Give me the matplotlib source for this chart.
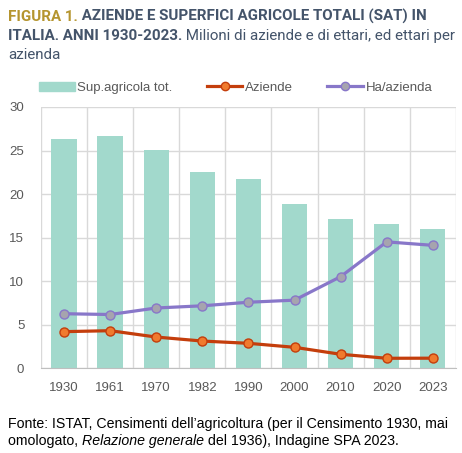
import numpy as np
import matplotlib
matplotlib.use("Agg")
import matplotlib.pyplot as plt
from matplotlib.lines import Line2D
from matplotlib.patches import Patch

years = ["1930", "1961", "1970", "1982", "1990", "2000", "2010", "2020", "2023"]
sup_agricola = [26.3, 26.7, 25.1, 22.5, 21.7, 18.8, 17.1, 16.5, 16.0]
aziende = [4.18, 4.29, 3.56, 3.10, 2.84, 2.38, 1.58, 1.12, 1.13]
ha_azienda = [6.24, 6.15, 6.90, 7.15, 7.56, 7.80, 10.5, 14.5, 14.1]

BAR = "#a2d9cc"
AZ_LINE, AZ_FACE = "#c43e0c", "#f07b2e"
HA_LINE, HA_FACE = "#8877c9", "#a6a4ae"
GRID = "#d9d9d9"
TICK = "#595959"
GOLD = "#b5952f"
DARK = "#44546a"

plt.rcParams["font.family"] = ["Liberation Sans", "DejaVu Sans"]
TITLE_FONT = ["Roboto", "Liberation Sans", "DejaVu Sans"]

fig = plt.figure(figsize=(4.62, 4.53), dpi=100)
ax = fig.add_axes([0.0887, 0.1876, 0.898, 0.5762])

x = np.arange(len(years))
ax.bar(x, sup_agricola, width=0.55, color=BAR, zorder=2)
ax.plot(x, aziende, "-o", color=AZ_LINE, lw=2.3, ms=6.5, mfc=AZ_FACE,
        mec=AZ_LINE, mew=1.0, zorder=3)
ax.plot(x, ha_azienda, "-o", color=HA_LINE, lw=2.3, ms=6.5, mfc=HA_FACE,
        mec=HA_LINE, mew=1.0, zorder=3)

ax.set_xlim(-0.5, len(years) - 0.5)
ax.set_ylim(0, 30)
ax.set_yticks(range(0, 31, 5))
ax.set_xticks(x)
ax.set_xticklabels(years)
ax.set_xticks(np.arange(-0.5, len(years), 1.0), minor=True)
ax.grid(axis="y", color=GRID, lw=1.0, zorder=0)
ax.grid(axis="x", which="minor", color=GRID, lw=1.0, zorder=0)
ax.tick_params(which="both", length=0, colors=TICK, labelsize=9.5)
ax.tick_params(axis="x", pad=10)
ax.tick_params(axis="y", pad=12)
for s in ["top", "right", "left"]:
    ax.spines[s].set_visible(False)
ax.spines["bottom"].set_color("#bfbfbf")

handles = [
    Patch(color=BAR),
    Line2D([], [], color=AZ_LINE, lw=2.3, marker="o", ms=6, mfc=AZ_FACE, mec=AZ_LINE),
    Line2D([], [], color=HA_LINE, lw=2.3, marker="o", ms=6, mfc=HA_FACE, mec=HA_LINE),
]
leg = fig.legend(handles, ["Sup.agricola tot.", "Aziende", "Ha/azienda"],
                 loc="center", bbox_to_anchor=(0.51, 0.806), ncol=3, frameon=False,
                 fontsize=9.5, handlelength=2.7, handletextpad=0.2, columnspacing=2.6)
for t in leg.get_texts():
    t.set_color(TICK)

fig.canvas.draw()
r = fig.canvas.get_renderer()


def line(pieces, x0, y, size, family=None, draw=True):
    xp = x0
    for txt, col, weight, st in pieces:
        t = fig.text(xp / 462, 1 - y / 453, txt, color=col, fontsize=size,
                     fontweight=weight, style=st, va="baseline", ha="left",
                     family=family)
        xp += t.get_window_extent(renderer=r).width
        if not draw:
            t.remove()
    return xp - x0


title1 = [("FIGURA 1.", GOLD, "bold", "normal"),
          (" AZIENDE E SUPERFICI AGRICOLE TOTALI (SAT) IN", DARK, "bold", "normal")]
title2 = [("ITALIA. ANNI 1930-2023.", DARK, "bold", "normal"),
          (" Milioni di aziende e di ettari, ed ettari per", DARK, "normal", "normal")]
# pick the size so both lines fit inside the figure width
w1 = line(title1, 8, 21, 12, TITLE_FONT, draw=False)
w2 = line(title2, 8, 40, 12, TITLE_FONT, draw=False)
ts = 12 * min(444 / w1, 446 / w2)
line(title1, 8, 21, ts, TITLE_FONT)
line(title2, 8, 40, ts, TITLE_FONT)
line([("azienda", DARK, "normal", "normal")], 8, 59, ts, TITLE_FONT)

foot1 = [("Fonte: ISTAT, Censimenti dell\u2019agricoltura (per il Censimento 1930, mai",
          "black", "normal", "normal")]
foot2 = [("omologato, ", "black", "normal", "normal"),
         ("Relazione generale", "black", "normal", "italic"),
         (" del 1936), Indagine SPA 2023.", "black", "normal", "normal")]
fs = 10 * 439 / line(foot1, 8, 428, 10, draw=False)
line(foot1, 8, 428, fs)
line(foot2, 8, 445, fs)

fig.savefig("out.png", dpi=100)
